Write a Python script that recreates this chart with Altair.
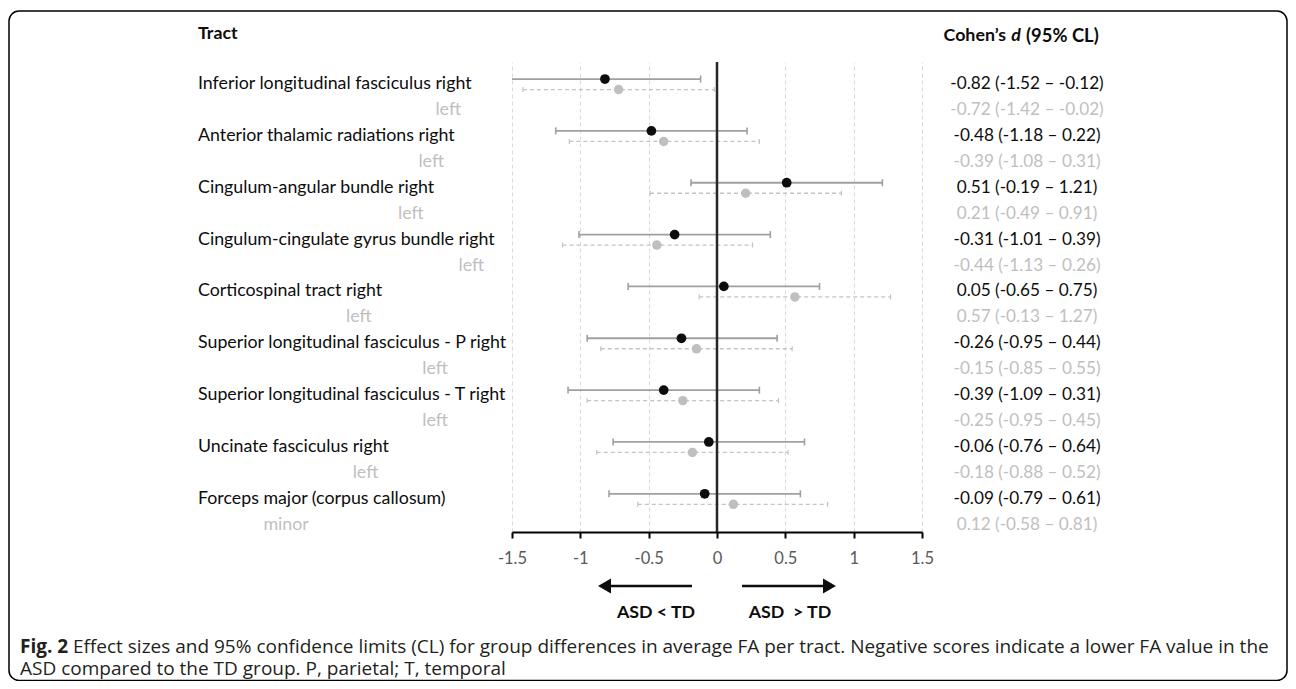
import altair as alt
import pandas as pd

# ---------------- data ----------------
tracts = [
    "Inferior longitudinal fasciculus",
    "Anterior thalamic radiations",
    "Cingulum-angular bundle",
    "Cingulum-cingulate gyrus bundle",
    "Corticospinal tract",
    "Superior longitudinal fasciculus - P",
    "Superior longitudinal fasciculus - T",
    "Uncinate fasciculus",
    "Forceps major (corpus callosum)",
]
first_word = ["right"] * 8 + [""]
second_word = ["left"] * 8 + ["minor"]
# hidden lead-in text that sets where each grey sub-label starts
second_prefix = [
    "Inferior longitudinal fasciculus",
    "Anterior thalamic radiations",
    "Cingulum-angular bundle",
    "Cingulum-cingulate gyrus bundle",
    "Corticospinal tract",
    "Superior longitudinal fascicu",
    "Superior longitudinal fascicu",
    "Uncinate fasciculus",
    "Forceps",
]

d_right = [-0.82, -0.48, 0.51, -0.31, 0.05, -0.26, -0.39, -0.06, -0.09]
lo_right = [-1.52, -1.18, -0.19, -1.01, -0.65, -0.95, -1.09, -0.76, -0.79]
hi_right = [-0.12, 0.22, 1.21, 0.39, 0.75, 0.44, 0.31, 0.64, 0.61]

d_left = [-0.72, -0.39, 0.21, -0.44, 0.57, -0.15, -0.25, -0.18, 0.12]
lo_left = [-1.42, -1.08, -0.49, -1.13, -0.13, -0.85, -0.95, -0.88, -0.58]
hi_left = [-0.02, 0.31, 0.91, 0.26, 1.27, 0.55, 0.45, 0.52, 0.81]

x_ticks = [-1.5, -1, -0.5, 0, 0.5, 1, 1.5]

caption_bold = "Fig. 2"
caption_line1 = ("Effect sizes and 95% confidence limits (CL) for group differences in average FA per tract. "
                 "Negative scores indicate a lower FA value in the")
caption_line2 = "ASD compared to the TD group. P, parietal; T, temporal"

# ---------------- tables ----------------
rows = []
for k in range(len(tracts)):
    for grp, d, lo, hi in (("right", d_right[k], lo_right[k], hi_right[k]),
                           ("left", d_left[k], lo_left[k], hi_left[k])):
        rows.append(dict(k=k, group=grp, bar_row=2 * k,
                         text_row=2 * k + (0 if grp == "right" else 1),
                         d=d, lo=lo, hi=hi,
                         ci=f"{d:.2f} ({lo:.2f} \u2013 {hi:.2f})"))
df = pd.DataFrame(rows)
df_r = df[df.group == "right"]
df_l = df[df.group == "left"]

lab_r = pd.DataFrame(dict(
    row=[2 * k for k in range(len(tracts))],
    text=[t + (" " + w if w else "") for t, w in zip(tracts, first_word)],
))
lab_l = pd.DataFrame(dict(
    row=[2 * k + 1 for k in range(len(tracts))],
    full=[p + " " + w for p, w in zip(second_prefix, second_word)],
    prefix=second_prefix,
))
one = pd.DataFrame({"a": [0]})

# ---------------- styling ----------------
FONT = "Lato"
FS = 17.8
FS_CI = 17.2
CAP_FONT = "Open Sans"
CAP_FS = 19
BLACK = "#0d0d0d"
GREY_TXT = "#bfbfbf"

xscale = alt.Scale(domain=[-1.5, 1.5], nice=False, zero=False)
yscale = alt.Scale(domain=[-0.85, 17.28], reverse=True, nice=False, zero=False)
xaxis = alt.Axis(values=x_ticks, labelExpr="'' + datum.value", title=None,
                 grid=True, gridDash=[4, 3], gridColor="#d9d9d9", gridWidth=1,
                 domainColor="#000000", domainWidth=2, tickColor="#000000",
                 tickWidth=2, tickSize=6, labelColor="#595959", labelFontSize=16.5,
                 labelFont=FONT, labelPadding=12, labelFlush=False,
                 labelOverlap=False, labelBound=False)


def X(f):
    return alt.X(f"{f}:Q", scale=xscale, axis=xaxis)


def Y(f):
    return alt.Y(f"{f}:Q", scale=yscale, axis=None)


# ---------------- layers ----------------
ci_r = alt.Chart(df_r).mark_rule(color="#a0a0a0", strokeWidth=1.8, yOffset=-5, clip=True).encode(
    x=X("lo"), x2="hi", y=Y("bar_row"))
caps_r = alt.Chart(df_r).transform_fold(["lo", "hi"], as_=["end", "val"]).mark_point(
    shape="M0,-1L0,1", size=49, filled=False, strokeWidth=1.6, color="#a0a0a0",
    opacity=1, yOffset=-5, clip=True).encode(x=X("val"), y=Y("bar_row"))

ci_l = alt.Chart(df_l).mark_rule(color="#c4c4c4", strokeWidth=1.3, strokeDash=[4, 3],
                                 yOffset=5.5, clip=True).encode(
    x=X("lo"), x2="hi", y=Y("bar_row"))
caps_l = alt.Chart(df_l).transform_fold(["lo", "hi"], as_=["end", "val"]).mark_point(
    shape="M0,-1L0,1", size=25, filled=False, strokeWidth=1.2, color="#c4c4c4",
    opacity=1, yOffset=5.5, clip=True).encode(x=X("val"), y=Y("bar_row"))

zero = alt.Chart(one).mark_rule(color="#262626", strokeWidth=2.5).encode(
    x=alt.X(datum=0, scale=xscale, axis=xaxis))

dots_l = alt.Chart(df_l).mark_circle(size=90, color="#bfbfbf", opacity=1, yOffset=5.5).encode(
    x=X("d"), y=Y("bar_row"))
dots_r = alt.Chart(df_r).mark_circle(size=95, color=BLACK, opacity=1, yOffset=-5).encode(
    x=X("d"), y=Y("bar_row"))

ci_text = alt.Chart(df).mark_text(align="center", baseline="middle", font=FONT, fontSize=FS_CI).encode(
    x=alt.value(515), y=Y("text_row"), text="ci:N",
    color=alt.Color("group:N", scale=alt.Scale(domain=["right", "left"], range=[BLACK, GREY_TXT]),
                    legend=None))

lab_right = alt.Chart(lab_r).mark_text(align="left", baseline="middle", font=FONT, fontSize=FS,
                                       color=BLACK).encode(
    x=alt.value(-314), y=Y("row"), text="text:N")
lab_left_full = alt.Chart(lab_l).mark_text(align="left", baseline="middle", font=FONT, fontSize=FS,
                                           color=GREY_TXT).encode(
    x=alt.value(-314), y=Y("row"), text="full:N")
lab_left_mask = alt.Chart(lab_l).mark_text(align="left", baseline="middle", font=FONT, fontSize=FS,
                                           color="#ffffff", stroke="#ffffff", strokeWidth=2).encode(
    x=alt.value(-314), y=Y("row"), text="prefix:N")

hdr_tract = alt.Chart(one).mark_text(align="left", baseline="middle", font=FONT, fontSize=FS,
                                     fontWeight="bold", color=BLACK).encode(
    x=alt.value(-314), y=alt.value(-28), text=alt.value("Tract"))
hdr_c1 = alt.Chart(one).mark_text(align="right", baseline="middle", font=FONT, fontSize=FS,
                                  fontWeight="bold", color=BLACK).encode(
    x=alt.value(494), y=alt.value(-26), text=alt.value("Cohen\u2019s"))
hdr_c2 = alt.Chart(one).mark_text(align="center", baseline="middle", font=FONT, fontSize=FS,
                                  fontWeight="bold", fontStyle="italic", color=BLACK).encode(
    x=alt.value(504), y=alt.value(-26), text=alt.value("d"))
hdr_c3 = alt.Chart(one).mark_text(align="left", baseline="middle", font=FONT, fontSize=FS + 0.6,
                                  fontWeight="bold", color=BLACK).encode(
    x=alt.value(514), y=alt.value(-26), text=alt.value("(95% CL)"))

arrow_l = alt.Chart(one).mark_rule(color=BLACK, strokeWidth=2.5).encode(
    x=alt.value(180), x2=alt.value(95), y=alt.value(524))
head_l = alt.Chart(one).mark_point(shape="triangle-left", size=225, filled=True, color=BLACK,
                                   opacity=1).encode(x=alt.value(92.5), y=alt.value(524))
arrow_r = alt.Chart(one).mark_rule(color=BLACK, strokeWidth=2.5).encode(
    x=alt.value(230), x2=alt.value(315), y=alt.value(524))
head_r = alt.Chart(one).mark_point(shape="triangle-right", size=225, filled=True, color=BLACK,
                                   opacity=1).encode(x=alt.value(317.5), y=alt.value(524))
asd_l = alt.Chart(one).mark_text(align="center", baseline="middle", font=FONT, fontSize=FS,
                                 fontWeight="bold", color=BLACK).encode(
    x=alt.value(144), y=alt.value(551), text=alt.value("ASD < TD"))
asd_r = alt.Chart(one).mark_text(align="center", baseline="middle", font=FONT, fontSize=FS,
                                 fontWeight="bold", color=BLACK).encode(
    x=alt.value(278), y=alt.value(551), text=alt.value("ASD\u00a0 > TD"))

cap_b = alt.Chart(one).mark_text(align="left", baseline="middle", font=CAP_FONT, fontSize=CAP_FS,
                                 fontWeight="bold", color="#231f20").encode(
    x=alt.value(-492), y=alt.value(585), text=alt.value(caption_bold))
cap_1 = alt.Chart(one).mark_text(align="left", baseline="middle", font=CAP_FONT, fontSize=CAP_FS,
                                 color="#231f20").encode(
    x=alt.value(-439), y=alt.value(585), text=alt.value(caption_line1))
cap_2 = alt.Chart(one).mark_text(align="left", baseline="middle", font=CAP_FONT, fontSize=CAP_FS,
                                 color="#231f20").encode(
    x=alt.value(-492), y=alt.value(607), text=alt.value(caption_line2))

frame = alt.Chart(one).mark_rect(fillOpacity=0, stroke="#000000", strokeWidth=1.5,
                                 cornerRadius=10).encode(
    x=alt.value(-503), x2=alt.value(775), y=alt.value(-51), y2=alt.value(618.5))

chart = alt.layer(
    ci_r, caps_r, ci_l, caps_l, zero, dots_l, dots_r,
    ci_text, lab_right, lab_left_full, lab_left_mask,
    hdr_tract, hdr_c1, hdr_c2, hdr_c3,
    arrow_l, head_l, arrow_r, head_r, asd_l, asd_r,
    cap_b, cap_1, cap_2, frame,
).properties(
    width=410, height=470,
    autosize=alt.AutoSizeParams(type="none"),
    padding={"left": 504, "top": 54, "right": 366, "bottom": 149},
    background="#ffffff",
).configure_view(strokeOpacity=0)

chart.save("out.html", embed_options={"renderer": "svg", "actions": False})
